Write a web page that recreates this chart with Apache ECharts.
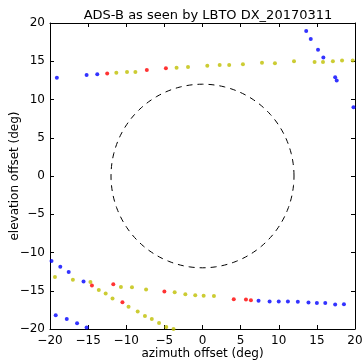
<!DOCTYPE html>
<html><head><meta charset="utf-8">
<script src="https://cdn.jsdelivr.net/npm/echarts@6/dist/echarts.min.js"></script>
<style>html,body{margin:0;padding:0;background:#fff}#c{width:364px;height:364px}</style>
</head><body><div id="c"></div>
<script>
const title = 'ADS-B as seen by LBTO DX_20170311';
const xName = 'azimuth offset (deg)';
const yName = 'elevation offset (deg)';
const circleRadius = 12;

const bluePts = [
  [-19.1,12.85],[-15.2,13.2],[-13.8,13.3],
  [13.6,18.95],[14.2,17.9],[15.15,16.5],[15.85,15.5],[17.4,12.9],[17.6,12.5],[19.8,9.0],
  [-19.8,-11.1],[-18.65,-11.85],[-17.55,-12.55],[-15.6,-13.8],
  [-19.25,-18.2],[-17.8,-18.7],[-16.45,-19.25],[-15.2,-19.8],[-13.85,-20.05],
  [7.35,-16.3],[8.8,-16.4],[10.0,-16.4],[11.2,-16.4],[12.5,-16.45],[13.9,-16.55],[15.0,-16.6],[16.1,-16.6],[17.4,-16.8],[18.55,-16.75]
];
const yellowPts = [
  [-11.3,13.5],[-9.9,13.6],[-8.8,13.6],[-3.4,14.15],[-1.9,14.25],
  [0.63,14.4],[2.25,14.5],[3.5,14.5],[5.3,14.6],[7.8,14.8],[9.5,14.75],[12.0,15.0],[14.7,14.9],[15.8,14.9],[17.1,15.0],[18.3,15.1],[19.7,15.1],
  [-19.35,-13.2],[-17.0,-13.55],[-14.7,-13.85],[-13.6,-14.9],[-12.7,-15.35],[-11.8,-16.0],
  [-10.7,-14.5],[-9.25,-14.55],[-7.4,-14.85],
  [-9.7,-17.1],[-8.5,-17.7],[-7.55,-18.3],[-6.65,-18.7],[-5.7,-19.2],[-4.75,-19.75],[-3.8,-20.0],
  [-3.65,-15.2],[-2.25,-15.45],[-0.95,-15.6],[0.15,-15.65],[1.5,-15.7]
];
const redPts = [
  [-12.5,13.4],[-7.3,13.85],[-4.8,14.1],
  [-14.5,-14.3],[-11.7,-14.15],[-10.5,-16.5],[-5.0,-15.1],
  [4.1,-16.1],[5.7,-16.15],[6.35,-16.25]
];
const xTicks = [-20,-15,-10,-5,0,5,10,15,20];
const yTicks = [-20,-15,-10,-5,0,5,10,15,20];

const circle = [];
for (let i = 0; i <= 360; i += 2) {
  const a = i * Math.PI / 180;
  circle.push([circleRadius * Math.cos(a), circleRadius * Math.sin(a)]);
}

const font = 'DejaVu Sans';
const fmt = v => (v < 0 ? '\u2212' + Math.abs(v) : String(v));
const axisCommon = {
  min: xTicks[0], max: xTicks[xTicks.length - 1], interval: 5,
  axisLine: {show: true, onZero: false, lineStyle: {color: '#000', width: 1}},
  axisTick: {show: true, inside: true, length: 4, lineStyle: {color: '#000'}},
  splitLine: {show: false},
};
const chart = echarts.init(document.getElementById('c'), null, {renderer: 'canvas'});
chart.setOption({
  animation: false,
  backgroundColor: '#fff',
  title: {text: title, left: 203, top: 4, textAlign: 'center',
    textStyle: {fontFamily: font, fontSize: 13, fontWeight: 'normal', color: '#000'}},
  grid: {left: 50, right: 9, top: 23, bottom: 35, containLabel: false, outerBoundsMode: 'none'},
  xAxis: [
    Object.assign({}, axisCommon, {type: 'value', position: 'bottom',
      name: xName, nameLocation: 'middle', nameGap: 19, nameMoveOverlap: false,
      nameTextStyle: {fontFamily: font, fontSize: 12, color: '#000', verticalAlign: 'top'},
      axisLabel: {fontFamily: font, fontSize: 12, color: '#000', margin: 6, formatter: fmt}}),
    Object.assign({}, axisCommon, {type: 'value', position: 'top', axisLabel: {show: false}})
  ],
  yAxis: [
    Object.assign({}, axisCommon, {type: 'value', position: 'left',
      min: yTicks[0], max: yTicks[yTicks.length - 1],
      name: yName, nameLocation: 'middle', nameGap: 29, nameMoveOverlap: false,
      nameTextStyle: {fontFamily: font, fontSize: 12, color: '#000'},
      axisLabel: {fontFamily: font, fontSize: 12, color: '#000', margin: 5, formatter: fmt}}),
    Object.assign({}, axisCommon, {type: 'value', position: 'right', axisLabel: {show: false}})
  ],
  series: [
    {type: 'line', data: circle, showSymbol: false, symbol: 'none', smooth: false,
      lineStyle: {color: '#000', width: 1, type: [6, 5]}, silent: true},
    {type: 'scatter', data: bluePts, symbolSize: 4, itemStyle: {color: '#0000ff'}},
    {type: 'scatter', data: yellowPts, symbolSize: 4, itemStyle: {color: '#bfbf00'}},
    {type: 'scatter', data: redPts, symbolSize: 4, itemStyle: {color: '#ff0000'}}
  ]
});
</script></body></html>
